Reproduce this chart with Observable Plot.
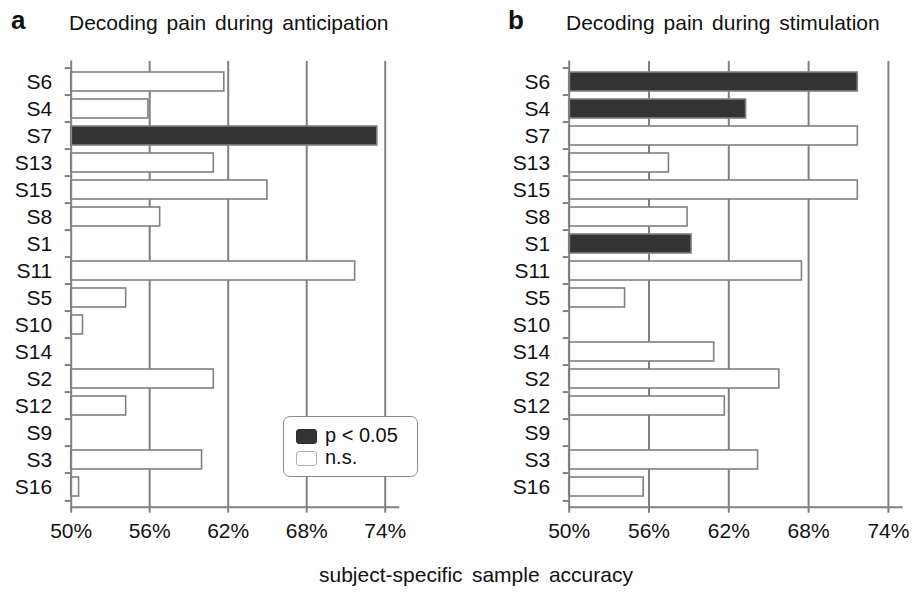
<!DOCTYPE html>
<html><head><meta charset="utf-8">
<script src="https://cdn.jsdelivr.net/npm/d3@7"></script>
<script src="https://cdn.jsdelivr.net/npm/@observablehq/plot@0.6"></script>
<style>
body{margin:0;background:#fff;font-family:"Liberation Sans",Arial,sans-serif;color:#111;}
#root{position:relative;width:912px;height:592px;overflow:hidden;background:#fff;}
.panel{position:absolute;top:0;}
.txt{position:absolute;white-space:nowrap;line-height:1;}
.legend{position:absolute;left:282.7px;top:416px;width:133px;height:59px;border:1.6px solid #8a8a8a;border-radius:7px;background:#fff;}
.sw{position:absolute;width:19px;height:13px;border-radius:3px;}
</style>
</head><body>
<div id="root"></div>
<script>
const subjects = ["S6","S4","S7","S13","S15","S8","S1","S11","S5","S10","S14","S2","S12","S9","S3","S16"];
const anticipation = [61.7,55.9,73.4,60.9,65.0,56.8,50,71.7,54.2,50.9,50,60.9,54.2,50,60.0,50.6];
const anticipationSig = ["S7"];
const stimulation = [71.7,63.3,71.7,57.5,71.7,58.9,59.2,67.5,54.2,50,60.9,65.8,61.7,50,64.2,55.6];
const stimulationSig = ["S6","S4","S1"];
const xTicks = [50,56,62,68,74];
const gridTicks = [56,62,68,74];
const titles = ["Decoding pain during anticipation","Decoding pain during stimulation"];
const panelLetters = ["a","b"];
const legendLabels = ["p < 0.05","n.s."];
const axisTitle = "subject-specific sample accuracy";

const GRAY = "#808080";
const DARK = "#333333";
const H = 545, TOP = 61, BOTTOM = 506.7;
const step = (BOTTOM - TOP) / subjects.length;

function panel(values, sig, ml, mr) {
  const data = subjects.map((s, i) => ({subject: s, value: values[i], sig: sig.includes(s)}));
  return Plot.plot({
    width: 456, height: H,
    marginTop: TOP, marginBottom: H - BOTTOM, marginLeft: ml, marginRight: mr,
    style: {fontFamily: "'Liberation Sans', Arial, sans-serif", fontSize: "21px", color: "#111", background: "white", overflow: "visible"},
    x: {domain: [50, 75], label: null},
    y: {domain: subjects, padding: 0, label: null},
    color: {domain: [true, false], range: [DARK, "white"]},
    marks: [
      Plot.ruleX(gridTicks, {stroke: GRAY, strokeWidth: 2}),
      Plot.barX(data.filter(d => d.value > 50), {x1: 50, x2: "value", y: "subject", fill: "sig", stroke: GRAY, strokeWidth: 1.6, insetTop: 4, insetBottom: 4}),
      Plot.frame({anchor: "left", stroke: GRAY, strokeWidth: 2}),
      Plot.frame({anchor: "bottom", stroke: GRAY, strokeWidth: 2}),
      Plot.axisY({tickSize: 0, tickPadding: 19, fontSize: 21, fill: "#111", label: null}),
      Plot.axisY({text: null, tickSize: 6, dy: -step / 2, stroke: GRAY, strokeWidth: 2, label: null}),
      Plot.axisY([subjects[subjects.length - 1]], {text: null, tickSize: 6, dy: step / 2, stroke: GRAY, strokeWidth: 2, label: null}),
      Plot.axisX(xTicks, {tickFormat: d => d + "%", tickSize: 6, tickPadding: 10.2, stroke: GRAY, strokeWidth: 2, fill: "#111", fontSize: 21, label: null})
    ]
  });
}

const root = document.getElementById("root");
function addPanel(node, left) {
  const d = document.createElement("div");
  d.className = "panel";
  d.style.left = left + "px";
  d.appendChild(node);
  root.appendChild(d);
}
addPanel(panel(anticipation, anticipationSig, 70.7, 58.2), 0);
addPanel(panel(stimulation, stimulationSig, 112.7, 10.8), 456);

function addText(str, left, top, size, extra) {
  const t = document.createElement("div");
  t.className = "txt";
  t.textContent = str;
  t.style.left = left + "px";
  t.style.top = top + "px";
  t.style.fontSize = size + "px";
  Object.assign(t.style, extra || {});
  root.appendChild(t);
  return t;
}
addText(panelLetters[0], 11, 7, 26, {fontWeight: "bold"});
addText(panelLetters[1], 508, 7, 26, {fontWeight: "bold"});
addText(titles[0], 69, 12.2, 21, {wordSpacing: "3px"});
addText(titles[1], 566, 12.2, 21, {wordSpacing: "3px"});
addText(axisTitle, 319, 564.2, 21, {wordSpacing: "3.5px"});

const lg = document.createElement("div");
lg.className = "legend";
root.appendChild(lg);
const sw1 = document.createElement("div");
sw1.className = "sw";
Object.assign(sw1.style, {left: "295.7px", top: "429.3px", background: DARK, border: "0.8px solid #2a2a2a"});
root.appendChild(sw1);
const sw2 = document.createElement("div");
sw2.className = "sw";
Object.assign(sw2.style, {left: "295.7px", top: "451.3px", background: "#fff", border: "1.2px solid #b0b0b0"});
root.appendChild(sw2);
addText(legendLabels[0], 325, 425.4, 20);
addText(legendLabels[1], 325, 447.4, 20);
</script>
</body></html>
